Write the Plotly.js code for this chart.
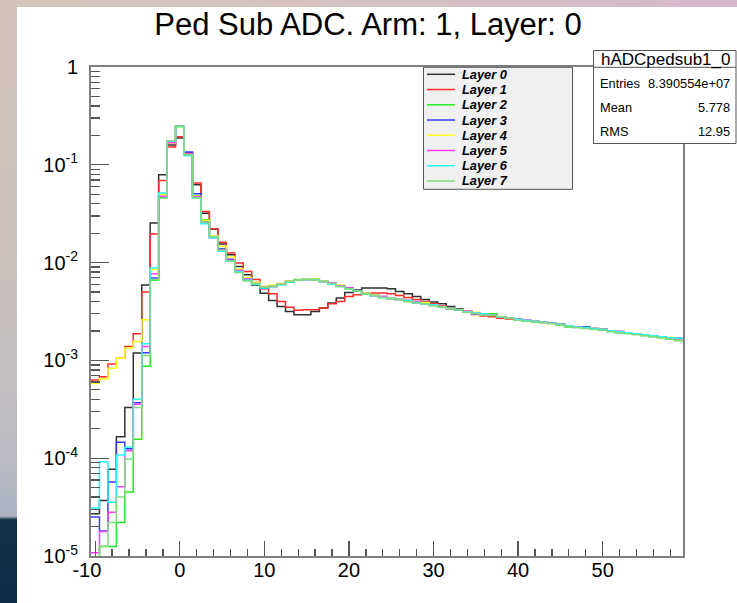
<!DOCTYPE html>
<html><head><meta charset="utf-8">
<script src="https://cdn.plot.ly/plotly-3.0.1.min.js"></script>
<style>
html,body{margin:0;padding:0;}
body{width:737px;height:603px;position:relative;overflow:hidden;background:linear-gradient(to right,#d3c5bb 0%,#d4c0c2 55%,#d7b7cc 100%);}
#strip{position:absolute;left:0;top:0;width:17px;height:603px;background:linear-gradient(to bottom,#d3c4ba 0%,#cbc1bd 45%,#bcbbc3 75%,#aab3c3 85.6%,#123049 86.2%,#0e2c47 100%);}
#chart{position:absolute;left:17px;top:7px;width:720px;height:596px;}
</style></head><body><div id="strip"></div><div id="chart"></div>
<script>
// ADC bin centres (bin width 1)
const binCentres = [-10,-9,-8,-7,-6,-5,-4,-3,-2,-1,
  0,1,2,3,4,5,6,7,8,9,
  10,11,12,13,14,15,16,17,18,19,
  20,21,22,23,24,25,26,27,28,29,
  30,31,32,33,34,35,36,37,38,39,
  40,41,42,43,44,45,46,47,48,49,
  50,51,52,53,54,55,56,57,58,59];

const layerNames = ["Layer 0","Layer 1","Layer 2","Layer 3","Layer 4","Layer 5","Layer 6","Layer 7"];
const layerColors = ["#303030","#ff2a2a","#22ee22","#3a3aff","#ffff22","#ff3cff","#2cf6f6","#7fdc7f"];

const layer0 = [2.7e-5,3.7e-5,7.7e-5,1.66e-4,3.3e-4,1.19e-3,5.9e-3,0.0254,0.079,0.159,
  0.188,0.131,0.0627,0.032,0.0221,0.0155,0.012,0.0091,0.0075,0.0059,
  0.00485,0.0041,0.00356,0.00317,0.00293,0.00293,0.00317,0.00343,0.00386,0.00435,
  0.00495,0.00525,0.0055,0.0055,0.0055,0.0054,0.00505,0.0048,0.0045,0.0042,
  0.00395,0.00379,0.00356,0.00335,0.00317,0.00305,0.00295,0.0029,0.0028,0.0027,
  0.00262,0.00255,0.0025,0.00245,0.0024,0.00233,0.00226,0.0022,0.0022,0.00212,
  0.00208,0.00201,0.00197,0.00192,0.00187,0.00183,0.00178,0.00175,0.0017,0.00167];
const layer1 = [6.3e-4,6.8e-4,9.2e-4,1.05e-3,1.39e-3,1.87e-3,5.0e-3,0.0196,0.069,0.152,
  0.193,0.131,0.065,0.0334,0.0222,0.0161,0.0125,0.0099,0.0081,0.0067,
  0.0054,0.0048,0.004,0.0035,0.00325,0.0033,0.0033,0.00343,0.0038,0.004,
  0.0045,0.0047,0.00485,0.0049,0.0049,0.0048,0.0046,0.0044,0.0042,0.004,
  0.0038,0.0036,0.00338,0.0033,0.00315,0.00295,0.00285,0.0028,0.0027,0.00265,
  0.0026,0.00253,0.00248,0.00244,0.0024,0.0023,0.00225,0.0022,0.00214,0.0021,
  0.0021,0.00199,0.00195,0.0019,0.00186,0.00182,0.00177,0.00173,0.0017,0.00166];
const layer2 = [9e-6,1.25e-5,1.25e-5,2.2e-5,4.5e-5,1.56e-4,8.7e-4,6.6e-3,0.0462,0.174,
  0.248,0.127,0.048,0.0275,0.0188,0.0138,0.0105,0.0081,0.0068,0.0062,
  0.0056,0.0058,0.006,0.0065,0.0067,0.0068,0.0068,0.0065,0.0061,0.0058,
  0.0054,0.0051,0.0048,0.0046,0.0044,0.0043,0.0042,0.004,0.0039,0.0038,
  0.0037,0.0035,0.0034,0.0033,0.0031,0.00305,0.00295,0.003,0.0028,0.0027,
  0.0026,0.00255,0.0025,0.00245,0.0024,0.0023,0.0022,0.0022,0.00215,0.0021,
  0.00205,0.00199,0.00193,0.0019,0.00185,0.0018,0.00175,0.0017,0.00167,0.0016];
const layer3 = [2.5e-5,1.8e-5,5.7e-5,1.46e-4,1.25e-4,3.7e-4,1.2e-3,6.95e-3,0.047,0.17,
  0.247,0.135,0.0507,0.0265,0.0183,0.0138,0.0108,0.0084,0.0069,0.0061,
  0.0055,0.0057,0.006,0.0064,0.0066,0.0067,0.0066,0.0064,0.0061,0.0058,
  0.0055,0.0051,0.0049,0.0046,0.0045,0.0043,0.0042,0.0041,0.0039,0.0039,
  0.0037,0.0035,0.0034,0.0033,0.0032,0.003,0.00295,0.0029,0.0028,0.0027,
  0.00262,0.00257,0.0025,0.00245,0.0024,0.00235,0.00225,0.0022,0.00218,0.0021,
  0.00207,0.002,0.00196,0.00192,0.00187,0.00183,0.00178,0.00174,0.0017,0.00168];
const layer4 = [5.8e-4,6.5e-4,8.3e-4,1.05e-3,1.34e-3,1.56e-3,2.6e-3,8.5e-3,0.0495,0.166,
  0.24,0.128,0.0476,0.027,0.0188,0.0147,0.0114,0.0086,0.007,0.0063,
  0.0057,0.0059,0.0061,0.0065,0.0067,0.0068,0.0067,0.0065,0.0061,0.0059,
  0.0054,0.0051,0.0049,0.0047,0.0045,0.0043,0.0042,0.0041,0.004,0.0039,
  0.0037,0.0035,0.0034,0.0033,0.0032,0.0031,0.00295,0.0029,0.0028,0.0027,
  0.0026,0.00255,0.0025,0.00245,0.0024,0.00233,0.00226,0.0022,0.00216,0.00212,
  0.00208,0.00201,0.00196,0.00191,0.00187,0.00183,0.00177,0.00174,0.00171,0.00167];
const layer5 = [1.08e-5,1.78e-5,2.8e-5,5.1e-5,1.19e-4,3.56e-4,1.39e-3,7.7e-3,0.0476,0.168,
  0.248,0.128,0.047,0.026,0.0179,0.0135,0.0106,0.0083,0.0068,0.0061,
  0.0056,0.0057,0.006,0.0064,0.0066,0.0067,0.0066,0.0064,0.0062,0.0058,
  0.0055,0.0051,0.0048,0.0046,0.0045,0.0043,0.0042,0.0041,0.004,0.0038,
  0.0037,0.0035,0.0034,0.0033,0.0032,0.00305,0.00295,0.0029,0.0028,0.0027,
  0.00262,0.00256,0.0025,0.00245,0.0024,0.00234,0.00226,0.0022,0.00216,0.00212,
  0.00208,0.00201,0.00197,0.00192,0.00187,0.00183,0.00178,0.00174,0.0017,0.00167];
const layer6 = [3.1e-5,9.2e-5,3.55e-5,1.08e-4,1.3e-4,4.0e-4,1.48e-3,8.8e-3,0.0515,0.174,
  0.245,0.124,0.0458,0.025,0.018,0.0131,0.0103,0.0081,0.0066,0.006,
  0.0055,0.0057,0.0059,0.0063,0.0066,0.0067,0.0066,0.0064,0.006,0.0057,
  0.0054,0.0051,0.0048,0.0046,0.0044,0.0043,0.0042,0.0041,0.0039,0.0038,
  0.0037,0.0035,0.0034,0.0033,0.00315,0.00305,0.003,0.0029,0.0028,0.0027,
  0.00262,0.00256,0.0025,0.00246,0.0024,0.00234,0.00226,0.0022,0.00217,0.00212,
  0.00208,0.00201,0.00196,0.00192,0.00187,0.00183,0.00179,0.00175,0.0017,0.00168];
const layer7 = [9e-6,1.26e-5,2.2e-5,4.0e-5,9.8e-5,3.3e-4,1.12e-3,6.7e-3,0.0458,0.176,
  0.25,0.127,0.0458,0.026,0.0185,0.0134,0.0104,0.0079,0.0065,0.0061,
  0.0056,0.0057,0.006,0.0064,0.0066,0.0067,0.0066,0.0064,0.0061,0.0057,
  0.0054,0.0051,0.0048,0.0046,0.0044,0.0043,0.0042,0.004,0.0039,0.0038,
  0.0036,0.0035,0.0034,0.0033,0.0031,0.003,0.0029,0.00288,0.0028,0.0027,
  0.00258,0.00252,0.00246,0.00242,0.00237,0.0023,0.00222,0.00216,0.00212,0.00207,
  0.00203,0.00196,0.00191,0.00187,0.00183,0.00179,0.00174,0.0017,0.00165,0.0016];

const layers = [layer0,layer1,layer2,layer3,layer4,layer5,layer6,layer7];

const xTickVals = [-10,0,10,20,30,40,50];
const xTickText = ["-10\u00a0\u00a0\u00a0","0","10","20","30","40","50"];
const yTickVals = [1e-5,1e-4,1e-3,1e-2,1e-1,1];
const yTickText = ["10<sup>-5</sup>","10<sup>-4</sup>","10<sup>-3</sup>","10<sup>-2</sup>","10<sup>-1</sup>","1"];

const statsTitle = "hADCpedsub1_0";
const statsLabels = ["Entries","Mean","RMS"];
const statsValues = ["8.390554e+07","5.778","12.95"];
const titleText = "Ped Sub ADC. Arm: 1, Layer: 0";

const FONT = "Liberation Sans, Arial, Helvetica, sans-serif";

// step histogram outline: left bin edges + closing right edge
const edges = binCentres.map(c => c - 0.5).concat([binCentres[binCentres.length-1] + 0.5]);
const traces = layers.map((vals, i) => ({
  type: "scatter", mode: "lines",
  x: edges, y: vals.concat([vals[vals.length-1]]),
  line: {shape: "hv", color: layerColors[i], width: 1.5},
  name: layerNames[i], hoverinfo: "skip", showlegend: false
}));

// positions (paper units) for the ROOT-style boxes
const pX = px => (px - 91) / 592;
const pY = py => (556 - py) / 489;

const shapes = [];
const annotations = [];
// legend box
shapes.push({type:"rect", xref:"paper", yref:"paper", x0:pX(423.5), x1:pX(572.5), y0:pY(189.3), y1:pY(67.3),
  fillcolor:"#f0f0f0", line:{color:"#555", width:1}, layer:"above"});
layerNames.forEach((nm, i) => {
  const yy = pY(74.3 + 15.24 * i);
  shapes.push({type:"line", xref:"paper", yref:"paper", x0:pX(427), x1:pX(455), y0:yy, y1:yy,
    line:{color:layerColors[i], width:1.5}, layer:"above"});
  annotations.push({xref:"paper", yref:"paper", x:pX(460), y:yy, xanchor:"left", yanchor:"middle",
    text:"<b><i>" + nm + "</i></b>", showarrow:false, font:{family:FONT, size:12.8, color:"#000"}});
});
// stats box
shapes.push({type:"rect", xref:"paper", yref:"paper", x0:pX(593.5), x1:pX(736), y0:pY(143.5), y1:pY(50.5),
  fillcolor:"#ffffff", line:{color:"#555", width:1}, layer:"above"});
shapes.push({type:"line", xref:"paper", yref:"paper", x0:pX(593.5), x1:pX(736), y0:pY(67.3), y1:pY(67.3),
  line:{color:"#555", width:1}, layer:"above"});
annotations.push({xref:"paper", yref:"paper", x:pX(665), y:pY(59.5), xanchor:"center", yanchor:"middle",
  text:statsTitle, showarrow:false, font:{family:FONT, size:17, color:"#000"}});
const rowY = [83.3, 107.7, 131.7];
statsLabels.forEach((lb, i) => {
  annotations.push({xref:"paper", yref:"paper", x:pX(598), y:pY(rowY[i]), xanchor:"left", yanchor:"middle",
    text:lb, showarrow:false, font:{family:FONT, size:12.8, color:"#000"}});
  annotations.push({xref:"paper", yref:"paper", x:pX(732), y:pY(rowY[i]), xanchor:"right", yanchor:"middle",
    text:statsValues[i], showarrow:false, font:{family:FONT, size:12.8, color:"#000"}});
});

const layout = {
  width: 720, height: 596,
  margin: {l:74, r:54, t:60, b:47, pad:0},
  paper_bgcolor: "#ffffff", plot_bgcolor: "#ffffff",
  showlegend: false,
  title: {text: titleText, font:{family:FONT, size:31, color:"#000"},
          xref:"container", x:0.4875, xanchor:"center", yref:"container", y:1 - 17/596, yanchor:"middle"},
  xaxis: {range:[-10.5, 59.5], tickmode:"array", tickvals:xTickVals, ticktext:xTickText,
    ticks:"inside", ticklen:15, tickwidth:1.3, tickcolor:"#555",
    minor:{dtick:2, tick0:0, ticks:"inside", ticklen:7.5, tickwidth:1.3, tickcolor:"#555"},
    showline:true, linecolor:"#808080", linewidth:2, mirror:true, showgrid:false, zeroline:false,
    tickfont:{family:FONT, size:20, color:"#000"}, ticklabelstandoff:-5},
  yaxis: {type:"log", range:[-5, 0], tickmode:"array", tickvals:yTickVals, ticktext:yTickText,
    ticks:"inside", ticklen:18, tickwidth:1.3, tickcolor:"#555",
    minor:{dtick:"D1", ticks:"inside", ticklen:9, tickwidth:1.3, tickcolor:"#555"},
    showline:true, linecolor:"#808080", linewidth:2, mirror:true, showgrid:false, zeroline:false,
    tickfont:{family:FONT, size:20, color:"#000"}, ticklabelstandoff:7},
  shapes: shapes, annotations: annotations
};

Plotly.newPlot("chart", traces, layout, {staticPlot:true, displayModeBar:false});
</script></body></html>
